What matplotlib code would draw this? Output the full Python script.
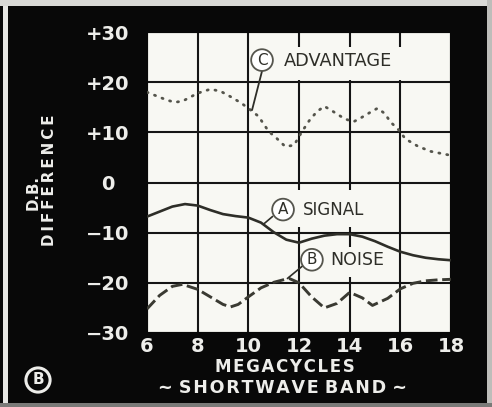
import matplotlib
matplotlib.use('Agg')
from matplotlib import pyplot as plt
import matplotlib.patches as mpatches

# readings in megacycles / db
sig_mc = [6.0, 6.5, 7.0, 7.5, 8.0, 8.5, 9.0, 9.5, 10.0, 10.5, 11.0, 11.5, 12.0,
          12.5, 13.0, 13.5, 14.0, 14.5, 15.0, 15.5, 16.0, 16.5, 17.0, 17.5, 18.0]
sig_db = [-6.8, -5.8, -4.8, -4.3, -4.6, -5.5, -6.3, -6.7, -7.0, -8.0, -9.9, -11.4, -12.0,
          -11.2, -10.6, -10.3, -10.3, -10.8, -11.7, -12.8, -13.8, -14.5, -15.0, -15.3, -15.5]

noise_mc = [6.0, 6.5, 7.0, 7.4, 8.0, 8.6, 9.0, 9.3, 9.6, 10.0, 10.5, 11.0, 11.6, 12.0,
            12.5, 13.0, 13.5, 14.0, 14.5, 14.9, 15.5, 16.0, 16.5, 17.0, 17.5, 18.0]
noise_db = [-25.2, -22.5, -20.7, -20.3, -21.3, -23.1, -24.3, -24.8, -24.3, -22.8, -21.0, -19.9, -19.1, -20.0,
            -22.8, -25.0, -24.1, -21.9, -23.0, -24.5, -23.1, -21.2, -20.1, -19.6, -19.4, -19.3]

adv_mc = [6.0, 6.4, 6.8, 7.1, 7.4, 7.7, 8.0, 8.5, 8.9, 9.3, 9.7, 10.0, 10.4, 10.8, 11.1, 11.45,
          11.8, 12.1, 12.4, 12.7, 13.0, 13.3, 13.8, 14.15, 14.45, 14.85, 15.1, 15.4, 15.6, 15.9,
          16.2, 16.7, 17.2, 17.8, 18.0]
adv_db = [18.0, 17.2, 16.4, 16.0, 16.2, 17.0, 17.8, 18.6, 18.2, 17.1, 15.9, 14.8, 13.2, 10.2, 8.9, 7.2,
          7.4, 10.0, 12.3, 14.1, 15.2, 14.3, 12.7, 12.1, 12.9, 14.1, 14.8, 13.7, 12.1, 10.7,
          8.7, 7.2, 6.2, 5.6, 5.4]

x_ticks = [6, 8, 10, 12, 14, 16, 18]
y_ticks = [-30, -20, -10, 0, 10, 20, 30]
y_labels = ['\u221230', '\u221220', '\u221210', '0\u2007', '+10', '+20', '+30']

W, H = 492, 407
INK = '#2e2e28'
PAPER = '#f8f8f3'
CHALK = '#ededea'
HAIR = '\u200a'
THIN = '\u2009'


def spaced(s, gap):
    return gap.join(s)


fig = plt.figure(figsize=(W / 100, H / 100), dpi=100, facecolor='#080808')
ax = fig.add_axes([147 / W, 1 - 333 / H, 304 / W, 301 / H])
ax.set_facecolor(PAPER)

# scan edges of the printed panel
for x0, y0, w, h, c in [(3, 0, 5, H, '#e6e6e3'), (0, 0, W, 6, '#d9d9d6'),
                        (487, 0, 5, H, '#bdbdba'), (0, 403, W, 4, '#7a7a78')]:
    fig.add_artist(mpatches.Rectangle((x0 / W, 1 - (y0 + h) / H), w / W, h / H,
                                      transform=fig.transFigure, fc=c, ec='none', zorder=0))

ax.set_xlim(6, 18)
ax.set_ylim(-30, 30)
ax.set_xticks(x_ticks)
ax.set_yticks(y_ticks)
ax.set_xticklabels([str(t) for t in x_ticks])
ax.set_yticklabels(y_labels)
ax.tick_params(length=0, colors=CHALK, labelsize=14)
ax.tick_params(axis='y', pad=13)
ax.tick_params(axis='x', pad=3)
for lab in ax.get_xticklabels() + ax.get_yticklabels():
    lab.set_fontweight('bold')
ax.grid(True, color='#151515', lw=1.5, zorder=1)
ax.set_axisbelow(True)
for sp in ax.spines.values():
    sp.set_color('#080808')
    sp.set_linewidth(1.5)

# white panels behind the curve names
for x0, y0, w, h in [(10.1, 20.5, 6.3, 6.6), (11.75, -8.9, 3.25, 7.4), (12.85, -18.8, 2.9, 5.9)]:
    ax.add_patch(mpatches.Rectangle((x0, y0), w, h, fc=PAPER, ec='none', zorder=2))

ax.plot(adv_mc, adv_db, color='#55554c', lw=2.0, linestyle=(0, (0.4, 2.5)),
        dash_capstyle='round', zorder=3)
ax.plot(sig_mc, sig_db, color=INK, lw=1.9, solid_capstyle='round', zorder=3)
ax.plot(noise_mc, noise_db, color='#3a3a32', lw=2.1, linestyle=(0, (4, 1.6)), zorder=3)

# leaders from the lettered circles to the curves
ax.plot([10.54, 10.15], [22.2, 14.5], color=INK, lw=1.3, zorder=4)
ax.plot([10.95, 10.6], [-6.8, -8.3], color=INK, lw=1.2, zorder=4)
ax.plot([12.15, 11.55], [-16.6, -19.1], color=INK, lw=1.2, zorder=4)

circ = dict(boxstyle='circle,pad=0.22', fc='white', ec='#55554d', lw=1.3)
for letter, cx, cy in [('C', 10.54, 24.4), ('A', 11.37, -5.4), ('B', 12.51, -15.4)]:
    ax.text(cx, cy, letter, fontsize=11, color=INK, ha='center', va='center',
            bbox=circ, zorder=5)

ax.text(11.42, 24.3, 'ADVANTAGE', fontsize=12.8, color=INK, ha='left', va='center', zorder=5)
ax.text(12.14, -5.5, 'SIGNAL', fontsize=12, color=INK, ha='left', va='center', zorder=5)
ax.text(13.24, -15.5, 'NOISE', fontsize=12.5, color=INK, ha='left', va='center', zorder=5)

fig.text(285 / W, 1 - 367 / H, spaced('MEGACYCLES', HAIR), color=CHALK, fontsize=12,
         fontweight='bold', ha='center', va='center')
fig.text(282 / W, 1 - 388 / H, '~ ' + spaced('SHORTWAVE', HAIR) + ' ' + spaced('BAND', HAIR) + ' ~',
         color=CHALK, fontsize=12.6, fontweight='bold', ha='center', va='center')
fig.text(33 / W, 1 - 192 / H, 'D.B.', color=CHALK, fontsize=10.8, fontweight='bold',
         rotation=90, ha='center', va='center')
fig.text(50 / W, 1 - 180 / H, spaced('DIFFERENCE', THIN), color=CHALK, fontsize=10.8,
         fontweight='bold', rotation=90, ha='center', va='center')
fig.text(38 / W, 1 - 380 / H, 'B', color=CHALK, fontsize=11, fontweight='bold',
         ha='center', va='center',
         bbox=dict(boxstyle='circle,pad=0.3', fc='#080808', ec=CHALK, lw=2.2))

fig.savefig('out.png', dpi=100, facecolor=fig.get_facecolor())
